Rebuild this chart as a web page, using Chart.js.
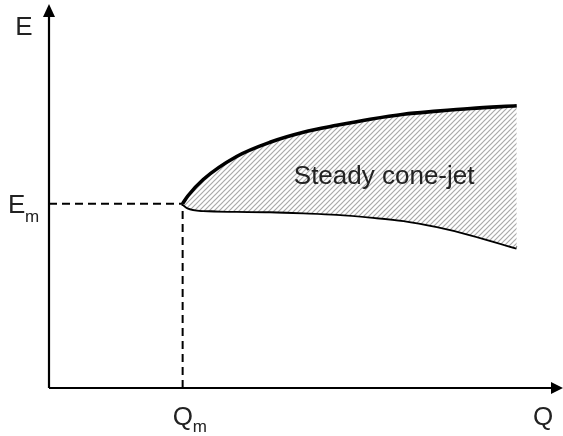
<!DOCTYPE html>
<html>
<head>
<meta charset="utf-8">
<script src="https://cdn.jsdelivr.net/npm/chart.js@4/dist/chart.umd.min.js"></script>
<style>
  body { margin: 0; background: #fff; }
  canvas { display: block; }
</style>
</head>
<body>
<canvas id="grafico" width="563" height="436"></canvas>
<script>
// Q-E operating map: the steady cone-jet region sits between two limit curves
const caudales = [2.6, 2.7, 3.0, 3.65, 4.3, 4.95, 5.6, 6.25, 6.9, 7.55, 8.2, 9.1]
const limiteSuperior = [4.8, 5.0, 5.43, 6.03, 6.40, 6.66, 6.84, 7.0, 7.13, 7.21, 7.28, 7.35]
const limiteInferior = [4.8, 4.70, 4.63, 4.61, 4.60, 4.57, 4.53, 4.46, 4.37, 4.21, 4.0, 3.65]
const Qm = 2.6
const Em = 4.8
const textoRegion = "Steady cone-jet"
const posTexto = { x: 6.52, y: 5.3 }

const fuente = "'Liberation Sans', Arial, sans-serif"

// rayado diagonal gris para la zona estable
function crearRayado() {
    let c = document.createElement("canvas")
    c.width = 5
    c.height = 5
    let g = c.getContext("2d")
    g.fillStyle = "#ffffff"
    g.fillRect(0, 0, 5, 5)
    g.strokeStyle = "#a9a9a9"
    g.lineWidth = 1.2
    g.beginPath()
    g.moveTo(0, 5); g.lineTo(5, 0)
    g.moveTo(-1, 1); g.lineTo(1, -1)
    g.moveTo(4, 6); g.lineTo(6, 4)
    g.stroke()
    return g.createPattern(c, "repeat")
}

function puntos(xs, ys) {
    return xs.map((x, i) => ({ x: x, y: ys[i] }))
}

// ejes con flecha y etiquetas E, Q, Em, Qm
const ejesYTextos = {
    id: "ejesYTextos",
    afterDatasetsDraw(chart) {
        const ctx = chart.ctx
        const sx = chart.scales.x
        const sy = chart.scales.y
        const x0 = sx.getPixelForValue(0)
        const y0 = sy.getPixelForValue(0)
        const xFin = sx.getPixelForValue(10)
        const yFin = sy.getPixelForValue(10)

        ctx.save()
        ctx.strokeStyle = "#000"
        ctx.fillStyle = "#000"
        ctx.lineWidth = 2.2
        ctx.beginPath()
        ctx.moveTo(x0, y0)
        ctx.lineTo(x0, yFin + 10)
        ctx.moveTo(x0, y0)
        ctx.lineTo(xFin - 10, y0)
        ctx.stroke()

        // flecha eje E
        ctx.beginPath()
        ctx.moveTo(x0, yFin)
        ctx.lineTo(x0 - 6, yFin + 13)
        ctx.lineTo(x0 + 6, yFin + 13)
        ctx.closePath()
        ctx.fill()

        // flecha eje Q
        ctx.beginPath()
        ctx.moveTo(xFin, y0)
        ctx.lineTo(xFin - 12, y0 - 6)
        ctx.lineTo(xFin - 12, y0 + 6)
        ctx.closePath()
        ctx.fill()

        ctx.fillStyle = "#222"
        ctx.textBaseline = "alphabetic"
        ctx.font = "26px " + fuente

        ctx.textAlign = "center"
        ctx.fillText("E", x0 - 25, yFin + 31)
        ctx.fillText("Q", xFin - 20, y0 + 37)

        // E_m
        const yEm = sy.getPixelForValue(Em)
        ctx.textAlign = "left"
        ctx.font = "26px " + fuente
        ctx.fillText("E", 8, yEm + 9)
        ctx.font = "17px " + fuente
        ctx.fillText("m", 25, yEm + 18)

        // Q_m
        const xQm = sx.getPixelForValue(Qm)
        ctx.font = "26px " + fuente
        ctx.fillText("Q", xQm - 10, y0 + 37)
        ctx.font = "17px " + fuente
        ctx.fillText("m", xQm + 10, y0 + 44)

        // texto de la region
        ctx.font = "26px " + fuente
        ctx.textAlign = "center"
        ctx.fillText(textoRegion, sx.getPixelForValue(posTexto.x), sy.getPixelForValue(posTexto.y))
        ctx.restore()
    }
}

let ctx = document.getElementById("grafico").getContext("2d")

let grafico = new Chart(ctx, {
    type: "line",
    data: {
        datasets: [
            {
                label: "superior",
                data: puntos(caudales, limiteSuperior),
                borderColor: "#000",
                borderWidth: 3.6,
                backgroundColor: crearRayado(),
                fill: "+1",
                pointRadius: 0,
                cubicInterpolationMode: "monotone"
            },
            {
                label: "inferior",
                data: puntos(caudales, limiteInferior),
                borderColor: "#000",
                borderWidth: 3.6,
                fill: false,
                pointRadius: 0,
                cubicInterpolationMode: "monotone"
            },
            {
                label: "Em",
                data: [{ x: 0, y: Em }, { x: Qm, y: Em }],
                borderColor: "#000",
                borderWidth: 2,
                borderDash: [8, 5],
                fill: false,
                pointRadius: 0
            },
            {
                label: "Qm",
                data: [{ x: Qm, y: 0 }, { x: Qm, y: Em }],
                borderColor: "#000",
                borderWidth: 2,
                borderDash: [8, 5],
                fill: false,
                pointRadius: 0
            }
        ]
    },
    options: {
        responsive: false,
        animation: false,
        layout: { padding: { left: 49, right: 0, top: 4, bottom: 48 } },
        plugins: {
            legend: { display: false },
            tooltip: { enabled: false }
        },
        scales: {
            x: { type: "linear", min: 0, max: 10, display: false },
            y: { type: "linear", min: 0, max: 10, display: false }
        }
    },
    plugins: [ejesYTextos]
})
</script>
</body>
</html>
